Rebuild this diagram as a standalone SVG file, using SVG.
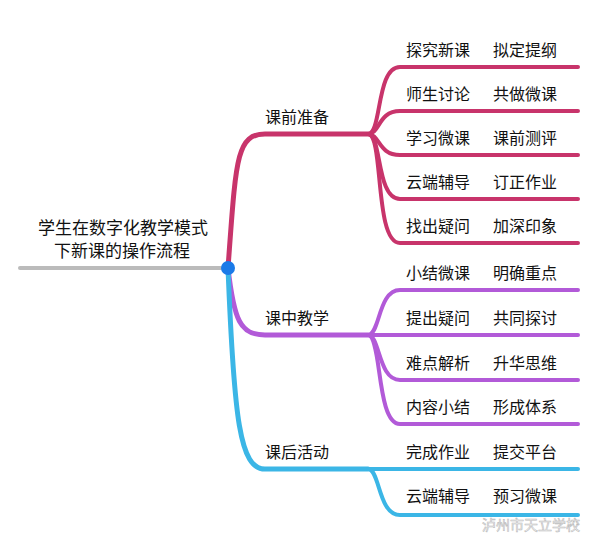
<svg xmlns="http://www.w3.org/2000/svg" width="600" height="537" viewBox="0 0 600 537">
<style>
.l{fill:none;stroke-linecap:round}
.r{stroke:#c8346b}.p{stroke:#b25ad8}.c{stroke:#3bb6e6}
.b{stroke-width:5}.s{stroke-width:4}
text{font-family:"Noto Sans CJK SC",sans-serif;font-size:16px;fill:#111}
</style>
<rect width="600" height="537" fill="#fff"/>
<g id="connectors">
<path class="l" d="M20,268 L228,268" stroke="#bbb" stroke-width="4"/>
<path class="l r b" d="M228,268 C236,160 236,134 265,134 L368,134"/>
<path class="l r s" d="M368,134 C382,134 376,67 400,67 L578,67"/>
<path class="l r s" d="M368,134 C380,134 378,111 400,111 L578,111"/>
<path class="l r s" d="M368,134 C380,134 378,155 400,155 L578,155"/>
<path class="l r s" d="M368,134 C382,134 376,199 400,199 L578,199"/>
<path class="l r s" d="M368,134 C384,134 374,243 400,243 L578,243"/>
<path class="l p b" d="M228,268 C234,320 240,335 265,335 L368,335"/>
<path class="l p s" d="M368,335 C380,335 378,290 400,290 L578,290"/>
<path class="l p s" d="M368,335 L578,335"/>
<path class="l p s" d="M368,335 C380,335 378,380 400,380 L578,380"/>
<path class="l p s" d="M368,335 C382,335 376,424 400,424 L578,424"/>
<path class="l c b" d="M228,268 C234,420 240,469 265,469 L368,469"/>
<path class="l c s" d="M368,469 L578,469"/>
<path class="l c s" d="M368,469 C380,469 378,515 400,515 L578,515"/>
<circle cx="228" cy="268" r="7" fill="#1a7ae8"/>
</g>
<g id="root"><text x="38" y="234" style="font-size:17px">学生在数字化教学模式</text><text x="54" y="257" style="font-size:17px">下新课的操作流程</text></g>
<g id="b1"><text x="265" y="123">课前准备</text></g>
<g id="b2"><text x="265" y="324">课中教学</text></g>
<g id="b3"><text x="265" y="458">课后活动</text></g>
<g id="n1"><text x="406" y="56">探究新课</text><text x="493" y="56">拟定提纲</text></g>
<g id="n2"><text x="406" y="100">师生讨论</text><text x="493" y="100">共做微课</text></g>
<g id="n3"><text x="406" y="144">学习微课</text><text x="493" y="144">课前测评</text></g>
<g id="n4"><text x="406" y="188">云端辅导</text><text x="493" y="188">订正作业</text></g>
<g id="n5"><text x="406" y="232">找出疑问</text><text x="493" y="232">加深印象</text></g>
<g id="n6"><text x="406" y="279">小结微课</text><text x="493" y="279">明确重点</text></g>
<g id="n7"><text x="406" y="324">提出疑问</text><text x="493" y="324">共同探讨</text></g>
<g id="n8"><text x="406" y="369">难点解析</text><text x="493" y="369">升华思维</text></g>
<g id="n9"><text x="406" y="413">内容小结</text><text x="493" y="413">形成体系</text></g>
<g id="n10"><text x="406" y="458">完成作业</text><text x="493" y="458">提交平台</text></g>
<g id="n11"><text x="406" y="502">云端辅导</text><text x="493" y="502">预习微课</text></g>
<text x="482" y="530" style="font-size:14px;fill:#fff;stroke:#bbb;stroke-width:0.6">泸州市天立学校</text>
</svg>
